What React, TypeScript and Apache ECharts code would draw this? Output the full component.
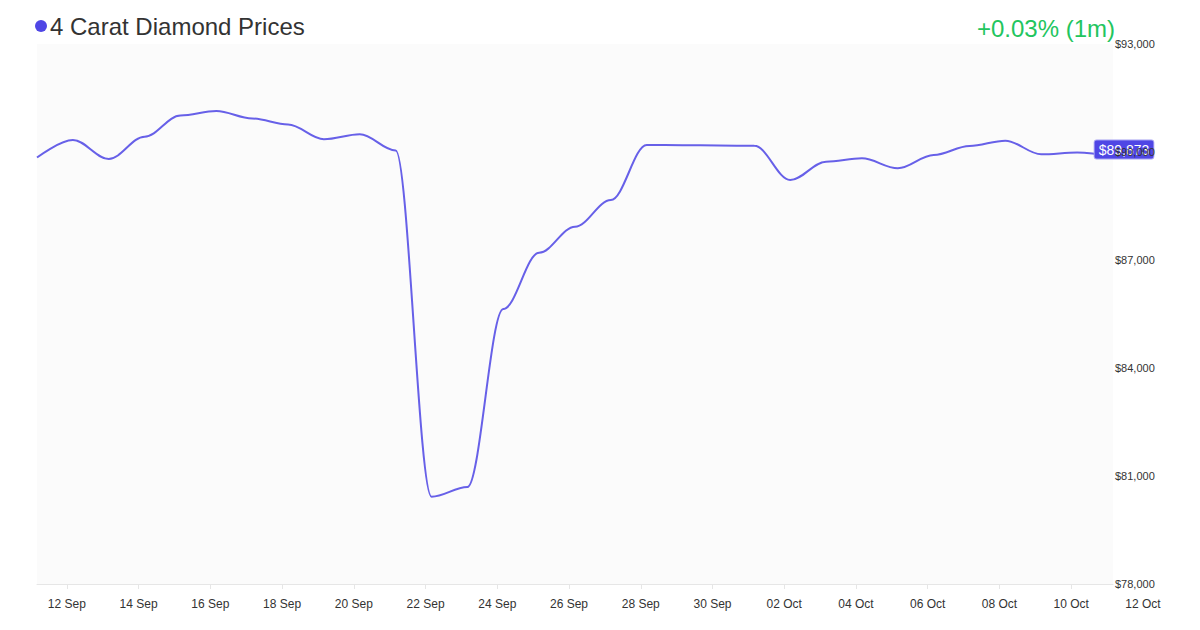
import React, { useEffect, useRef } from "react";
import * as echarts from "echarts";

const TITLE = "4 Carat Diamond Prices";
const CHANGE_TEXT = "+0.03% (1m)";

const dates = [
  "2024-09-11T04:00:00Z", "2024-09-12T04:00:00Z", "2024-09-13T04:00:00Z", "2024-09-14T04:00:00Z",
  "2024-09-15T04:00:00Z", "2024-09-16T04:00:00Z", "2024-09-17T04:00:00Z", "2024-09-18T04:00:00Z",
  "2024-09-19T04:00:00Z", "2024-09-20T04:00:00Z", "2024-09-21T04:00:00Z", "2024-09-22T04:00:00Z",
  "2024-09-23T04:00:00Z", "2024-09-24T04:00:00Z", "2024-09-25T04:00:00Z", "2024-09-26T04:00:00Z",
  "2024-09-27T04:00:00Z", "2024-09-28T04:00:00Z", "2024-09-29T04:00:00Z", "2024-09-30T04:00:00Z",
  "2024-10-01T04:00:00Z", "2024-10-02T04:00:00Z", "2024-10-03T04:00:00Z", "2024-10-04T04:00:00Z",
  "2024-10-05T04:00:00Z", "2024-10-06T04:00:00Z", "2024-10-07T04:00:00Z", "2024-10-08T04:00:00Z",
  "2024-10-09T04:00:00Z", "2024-10-10T04:00:00Z", "2024-10-11T04:00:00Z",
];

const prices = [
  89846, 90333, 89806, 90425, 91014, 91139, 90931, 90764, 90353, 90492, 90042,
  80425, 80694, 85639, 87203, 87925, 88667, 90194, 90189, 90181, 90172,
  89222, 89731, 89825, 89547, 89917, 90167, 90314, 89936, 89986, 89873,
];

const xTickDates = [
  "2024-09-12", "2024-09-14", "2024-09-16", "2024-09-18", "2024-09-20", "2024-09-22",
  "2024-09-24", "2024-09-26", "2024-09-28", "2024-09-30", "2024-10-02", "2024-10-04",
  "2024-10-06", "2024-10-08", "2024-10-10", "2024-10-12",
];

const Y_MIN = 78000;
const Y_MAX = 93000;
const Y_STEP = 3000;

const MONTHS = ["Jan", "Feb", "Mar", "Apr", "May", "Jun", "Jul", "Aug", "Sep", "Oct", "Nov", "Dec"];
const FONT = "'Liberation Sans', Arial, Helvetica, sans-serif";
const LINE_COLOR = "#6760e8";
const ACCENT = "#4f46e5";

function fmtDate(v: number) {
  const d = new Date(v);
  const day = d.getUTCDate();
  return (day < 10 ? "0" + day : "" + day) + " " + MONTHS[d.getUTCMonth()];
}
function fmtMoney(v: number) {
  return "$" + Math.round(v).toLocaleString("en-US");
}

export default function App() {
  const ref = useRef<HTMLDivElement>(null);
  useEffect(() => {
    if (!ref.current) return;
    const chart = echarts.init(ref.current, undefined, { renderer: "svg" });
    const xs = dates.map((d) => new Date(d).getTime());
    const data = xs.map((t, i) => [t, prices[i]]);
    const tickTs = xTickDates.map((d) => new Date(d + "T00:00:00Z").getTime());
    const inRange = tickTs.filter((t) => t >= xs[0] && t <= xs[xs.length - 1]);
    const outRange = tickTs.filter((t) => t > xs[xs.length - 1]);
    const last = prices[prices.length - 1];
    const LABEL_MARGIN = 14;

    chart.setOption({
      animation: false,
      backgroundColor: "#ffffff",
      textStyle: { fontFamily: FONT },
      title: [
        {
          left: 30,
          top: 9,
          text: "{dot|}{t|" + TITLE + "}",
          textStyle: {
            rich: {
              dot: { width: 12, height: 12, borderRadius: 6, backgroundColor: ACCENT },
              t: { fontSize: 24, fontWeight: "normal", color: "#333333", fontFamily: FONT, padding: [0, 0, 0, 3] },
            },
          },
        },
        {
          right: 80,
          top: 11,
          text: CHANGE_TEXT,
          textStyle: { fontSize: 24, fontWeight: "normal", color: "#22c55e", fontFamily: FONT },
        },
      ],
      grid: {
        left: 37,
        right: 87,
        top: 44,
        bottom: 46,
        show: true,
        backgroundColor: "#fbfbfb",
        borderWidth: 0,
        outerBoundsMode: "none",
      },
      xAxis: {
        type: "value",
        min: xs[0],
        max: xs[xs.length - 1],
        axisLine: { show: true, lineStyle: { color: "#e6e6e6", width: 1 } },
        axisTick: { show: true, length: 5, lineStyle: { color: "#e6e6e6" }, customValues: inRange },
        axisLabel: {
          customValues: inRange,
          formatter: (v: number) => fmtDate(v),
          color: "#333333",
          fontSize: 12,
          margin: LABEL_MARGIN,
          fontFamily: FONT,
          hideOverlap: false,
        },
        splitLine: { show: false },
      },
      yAxis: {
        type: "value",
        position: "right",
        min: Y_MIN,
        max: Y_MAX,
        interval: Y_STEP,
        z: 5,
        axisLine: { show: false },
        axisTick: { show: false },
        splitLine: { show: false },
        axisLabel: {
          formatter: (v: number) => fmtMoney(v),
          color: "#333333",
          fontSize: 11,
          margin: 2,
          fontFamily: FONT,
          padding: [0, 0, 4, 0],
        },
      },
      series: [
        {
          type: "line",
          data,
          smooth: 0.35,
          smoothMonotone: "x",
          showSymbol: false,
          symbol: "none",
          lineStyle: { color: LINE_COLOR, width: 2 },
          z: 2,
          markPoint: {
            symbol: "circle",
            symbolSize: 1,
            itemStyle: { color: "rgba(0,0,0,0)" },
            data: [{ coord: [xs[xs.length - 1], last], value: last }],
            label: {
              show: true,
              position: "inside",
              offset: [11, -7],
              formatter: () => fmtMoney(last),
              color: "#ffffff",
              fontSize: 14,
              fontFamily: FONT,
              backgroundColor: ACCENT,
              borderColor: "#a5a1f2",
              borderWidth: 1,
              borderRadius: 2,
              padding: [2, 4, 2, 4],
            },
          },
        },
      ],
    });

    const yBottom = chart.convertToPixel({ yAxisIndex: 0 }, Y_MIN) as number;
    chart.setOption({
      graphic: outRange.map((t) => ({
        type: "text",
        x: chart.convertToPixel({ xAxisIndex: 0 }, t) as number,
        y: yBottom + LABEL_MARGIN,
        style: {
          text: fmtDate(t),
          fill: "#333333",
          fontSize: 12,
          fontFamily: FONT,
          align: "center",
          verticalAlign: "top",
        },
      })),
    });

    return () => chart.dispose();
  }, []);
  return (
    <div
      ref={ref}
      style={{ position: "absolute", left: 0, top: 0, width: 1200, height: 630 }}
    />
  );
}
